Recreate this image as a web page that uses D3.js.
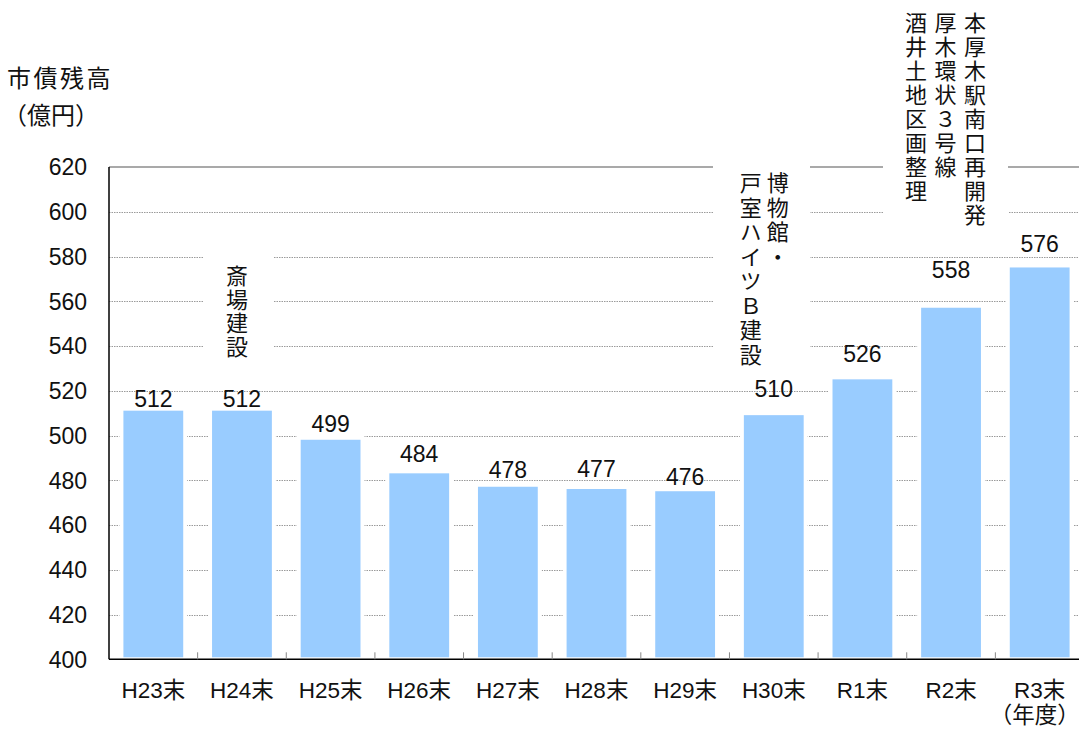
<!DOCTYPE html>
<html>
<head>
<meta charset="utf-8">
<script src="https://cdn.jsdelivr.net/npm/d3@7"></script>
<style>
  body { margin: 0; background: #fff; }
  svg { display: block; }
</style>
</head>
<body>
<svg id="chart" width="1079" height="729"></svg>
<script>
// data
var years = ["H23末", "H24末", "H25末", "H26末", "H27末", "H28末", "H29末", "H30末", "R1末", "R2末", "R3末"];
var balance = [512, 512, 499, 484, 478, 477, 476, 510, 526, 558, 576];
var yTicks = [400, 420, 440, 460, 480, 500, 520, 540, 560, 580, 600, 620];
var notes = [
  { year: "H24末", lines: ["斎場建設"] },
  { year: "H30末", lines: ["博物館・", "戸室ハイツＢ建設"] },
  { year: "R2末", lines: ["本厚木駅南口再開発", "厚木環状３号線", "酒井土地区画整理"] }
];

// layout tweaks (not data)
var labelLift = [2, 2, 6, 9, 7, 10, 4, 16, 15, 28, 13];
var noteLayout = {
  "H24末": { dx: -5, top: 265, spacing: 1.5, gap: 0, box: [203, 255, 70, 115] },
  "H30末": { dx: 4, top: 172, spacing: 2.5, gap: 27, box: [713, 160, 97, 205] },
  "R2末": { dx: 24, top: 12, spacing: 2, gap: 29.5, box: [883, 0, 125, 240] }
};

var latin = "'Liberation Sans', Arial, 'Noto Sans CJK JP', sans-serif";
var jp = "'Noto Sans CJK JP', sans-serif";

function drawChart() {
  var svg = d3.select("#chart");
  var plotLeft = 109, plotRight = 1084, plotTop = 167, plotBottom = 659.3;

  var x = d3.scaleBand().domain(years).range([plotLeft, plotRight]).paddingInner(0.28).paddingOuter(0.14);
  var y = d3.scaleLinear().domain([400, 620]).range([plotBottom, plotTop]);

  // gridlines
  svg.append("g").selectAll("line").data(yTicks.filter(function(d) { return d > 400 && d < 620; }))
    .enter().append("line")
    .attr("x1", plotLeft).attr("x2", 1079)
    .attr("y1", function(d) { return Math.round(y(d)) + 0.5; })
    .attr("y2", function(d) { return Math.round(y(d)) + 0.5; })
    .attr("stroke", "#9a9a9a").attr("stroke-width", 1).attr("stroke-dasharray", "1.5,1");

  svg.append("line").attr("x1", plotLeft).attr("x2", 1079).attr("y1", y(620)).attr("y2", y(620))
    .attr("stroke", "#8c8c8c").attr("stroke-width", 1.5);

  // white masks behind annotations
  notes.forEach(function(n) {
    var b = noteLayout[n.year].box;
    svg.append("rect").attr("x", b[0]).attr("y", b[1]).attr("width", b[2]).attr("height", b[3]).attr("fill", "#fff");
  });

  // bars
  svg.append("g").selectAll("rect").data(balance).enter().append("rect")
    .attr("x", function(d, i) { return x(years[i]); })
    .attr("width", x.bandwidth())
    .attr("y", function(d) { return y(d); })
    .attr("height", function(d) { return plotBottom - y(d); })
    .attr("fill", "#99ccff")
    .attr("stroke", "#fff").attr("stroke-width", 4);

  // value labels
  svg.append("g").selectAll("text").data(balance).enter().append("text")
    .attr("x", function(d, i) { return x(years[i]) + x.bandwidth() / 2; })
    .attr("y", function(d, i) { return y(d) - labelLift[i]; })
    .attr("text-anchor", "middle")
    .attr("font-family", latin).attr("font-size", 23).attr("fill", "#111")
    .text(function(d) { return d; });

  // axes
  svg.append("line").attr("x1", plotLeft).attr("x2", plotLeft).attr("y1", plotTop).attr("y2", plotBottom)
    .attr("stroke", "#000").attr("stroke-width", 1.5);
  svg.append("line").attr("x1", plotLeft).attr("x2", 1079).attr("y1", plotBottom).attr("y2", plotBottom)
    .attr("stroke", "#000").attr("stroke-width", 1.5);

  svg.append("g").selectAll("line").data(years.slice(1)).enter().append("line")
    .attr("x1", function(d) { return x(d) - x.step() * x.paddingInner() / 2; })
    .attr("x2", function(d) { return x(d) - x.step() * x.paddingInner() / 2; })
    .attr("y1", plotBottom - 7).attr("y2", plotBottom)
    .attr("stroke", "#888").attr("stroke-width", 1);

  svg.append("g").selectAll("text").data(yTicks).enter().append("text")
    .attr("x", 87).attr("y", function(d) { return y(d); })
    .attr("dy", "0.36em").attr("text-anchor", "end")
    .attr("font-family", latin).attr("font-size", 23).attr("fill", "#111")
    .text(function(d) { return d; });

  svg.append("g").selectAll("text").data(years).enter().append("text")
    .attr("x", function(d) { return x(d) + x.bandwidth() / 2; })
    .attr("y", 698)
    .attr("text-anchor", "middle")
    .attr("font-family", latin).attr("font-size", 22.5).attr("fill", "#111")
    .text(function(d) { return d; });

  svg.append("text").attr("x", x("R3末") + x.bandwidth() / 2 - 5).attr("y", 723)
    .attr("text-anchor", "middle").attr("font-family", latin).attr("font-size", 22.5).attr("fill", "#111")
    .text("（年度）");

  // axis title
  svg.append("text").attr("x", 7).attr("y", 87)
    .attr("font-family", jp).attr("font-size", 24).attr("letter-spacing", 2.5).attr("fill", "#111")
    .text("市債残高");
  svg.append("text").attr("x", 3).attr("y", 124)
    .attr("font-family", jp).attr("font-size", 24).attr("fill", "#111")
    .text("（億円）");

  // vertical annotations, one text per column
  notes.forEach(function(n) {
    var L = noteLayout[n.year];
    var cx = x(n.year) + x.bandwidth() / 2 + L.dx;
    svg.append("g").selectAll("text").data(n.lines).enter().append("text")
      .attr("x", function(line, col) { return cx - col * L.gap; })
      .attr("y", L.top)
      .style("writing-mode", "vertical-rl")
      .attr("letter-spacing", L.spacing)
      .attr("font-family", jp).attr("font-size", 22).attr("fill", "#111")
      .text(function(line) { return line; });
  });
}

drawChart();
</script>
</body>
</html>
